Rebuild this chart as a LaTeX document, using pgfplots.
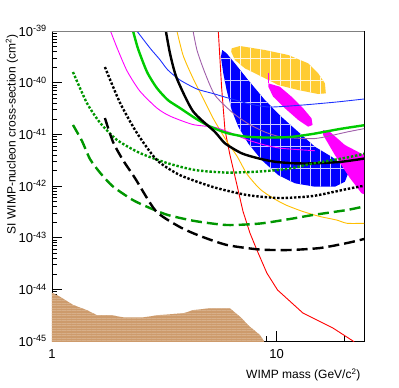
\documentclass[border=0pt]{standalone}
\usepackage{fontspec}
\setmainfont{Liberation Sans}
\usepackage{pgfplots}
\pgfplotsset{compat=1.18}
\usetikzlibrary{patterns.meta}

\definecolor{cgold}{RGB}{255,204,51}
\definecolor{cgoldline}{RGB}{255,190,0}
\definecolor{cblue}{RGB}{0,0,255}
\definecolor{cblueline}{RGB}{30,50,255}
\definecolor{cmag}{RGB}{255,0,255}
\definecolor{cbrown}{RGB}{205,155,108}
\definecolor{cgreen}{RGB}{0,204,0}
\definecolor{cdkgreen}{RGB}{0,150,0}
\definecolor{cpurple}{RGB}{160,95,170}
\definecolor{cred}{RGB}{255,0,0}

\begin{document}
\begin{tikzpicture}
\useasboundingbox (-52pt,-47pt) rectangle (347pt,341pt);
\begin{axis}[
    scale only axis,
    width=312pt, height=310pt,
    xmode=log, ymode=log,
    xmin=1, xmax=24.5, ymin=1e-45, ymax=1e-39,
    xtick={1,10}, xticklabels={1,10},
    minor xtick={2,3,4,5,6,7,8,9,20},
    ytick={1e-45,1e-44,1e-43,1e-42,1e-41,1e-40,1e-39},
    yticklabels={10\textsuperscript{-45},10\textsuperscript{-44},10\textsuperscript{-43},10\textsuperscript{-42},10\textsuperscript{-41},10\textsuperscript{-40},10\textsuperscript{-39}},
    minor ytick={2e-45,3e-45,4e-45,5e-45,6e-45,7e-45,8e-45,9e-45,
                 2e-44,3e-44,4e-44,5e-44,6e-44,7e-44,8e-44,9e-44,
                 2e-43,3e-43,4e-43,5e-43,6e-43,7e-43,8e-43,9e-43,
                 2e-42,3e-42,4e-42,5e-42,6e-42,7e-42,8e-42,9e-42,
                 2e-41,3e-41,4e-41,5e-41,6e-41,7e-41,8e-41,9e-41,
                 2e-40,3e-40,4e-40,5e-40,6e-40,7e-40,8e-40,9e-40},
    tick pos=left, tick align=inside,
    major tick length=10pt, minor tick length=5pt,
    tick style={black, line width=0.6pt},
    axis line style={black, line width=0.8pt},
    ticklabel style={font=\fontsize{13}{13}\selectfont},
    xticklabel style={anchor=north, inner sep=0pt, yshift=-8pt},
    yticklabel style={anchor=east, inner sep=0pt, xshift=-5pt},
    every axis x label/.style={at={([yshift=-24pt]rel axis cs:1,0)}, anchor=north east, font=\fontsize{12}{12}\selectfont},
    every axis y label/.style={at={([xshift=-40pt]rel axis cs:0,1)}, rotate=90, anchor=east, font=\fontsize{12}{12}\selectfont},
    xlabel={WIMP mass (GeV/c\textsuperscript{2})},
    ylabel={SI WIMP-nucleon cross-section (cm\textsuperscript{2})},
]

% --- filled regions ---
\addplot[draw=none, fill=cbrown,
  postaction={pattern={Lines[angle=0,distance=2.5pt,line width=0.35pt]}, pattern color=cbrown!80!white}]
  coordinates {(0.95,8.61e-45) (1.0,8.61e-45) (1.085,7.21e-45) (1.244,4.98e-45) (1.427,3.98e-45)
  (1.58,3.19e-45) (1.81,3.19e-45) (2.08,2.88e-45) (2.55,2.88e-45) (3.02,3.19e-45)
  (3.84,3.44e-45) (4.26,3.98e-45) (5.05,4.30e-45) (6.2,4.30e-45) (6.87,2.96e-45)
  (7.61,1.89e-45) (8.43,1.31e-45) (8.78,1e-45) (8.9,8e-46) (0.95,8e-46)} -- cycle;

\addplot[draw=none, fill=cgold,
  postaction={pattern={Lines[angle=90,distance=10pt,line width=0.7pt]}, pattern color=white!85!cgold},
  postaction={pattern={Lines[angle=0,distance=22pt,line width=0.7pt]}, pattern color=white!85!cgold}]
  coordinates {(6.31,4.62e-40) (6.87,5.13e-40) (8.87,4.29e-40) (11.26,3.44e-40) (13.82,2.37e-40)
  (15.31,1.52e-40) (16.41,9.73e-41) (16.57,6.22e-41) (15.31,6.04e-41) (12.48,7.21e-41)
  (10.17,9.02e-41) (8.58,1.31e-40) (7.22,1.90e-40) (6.52,2.75e-40) (6.28,3.97e-40)} -- cycle;

\addplot[draw=none, fill=cblue,
  postaction={pattern={Lines[angle=90,distance=10pt,line width=0.7pt]}, pattern color=white!80!cblue},
  postaction={pattern={Lines[angle=0,distance=22pt,line width=0.7pt]}, pattern color=white!80!cblue}]
  coordinates {(5.73,4.29e-40) (5.65,3.18e-40) (5.79,1.52e-40) (5.99,7.21e-41) (6.31,2.96e-41)
  (6.75,1.41e-41) (7.47,6.71e-42) (8.58,3.18e-42) (10.17,1.63e-42) (12.06,1.13e-42)
  (14.81,9.70e-43) (18.18,9.70e-43) (20.14,1.21e-42) (20.83,1.76e-42) (20.14,2.37e-42)
  (17.57,3.69e-42) (14.81,5.77e-42) (12.48,1.12e-41) (10.5,2.19e-41) (8.87,4.62e-41)
  (7.47,1.13e-40) (6.52,2.37e-40) (5.99,3.70e-40)} -- cycle;

\addplot[draw=none, fill=cmag]
  coordinates {(9.18,9.73e-41) (10.34,8.36e-41) (11.66,5.35e-41) (13.14,3.19e-41) (14.31,2.04e-41)
  (14.46,1.52e-41) (13.82,1.41e-41) (12.48,1.90e-41) (10.9,3.19e-41) (9.66,5.35e-41)
  (9.18,8.36e-41)} -- cycle;
\addplot[cmag, line width=0.8pt] coordinates {(9.18,1.52e-40) (9.18,9.73e-41)};

\addplot[draw=none, fill=cmag]
  coordinates {(16.12,1.21e-41) (17.27,1.12e-41) (20.14,6.22e-42) (26,3.48e-42) (26,6.4e-43)
  (23.89,7.23e-43) (21.2,1.43e-42) (18.18,3.98e-42) (16.12,9.71e-42)} -- cycle;

% --- thin limit curves ---
\addplot[cred, line width=0.9pt] coordinates {(5.45,2e-39) (5.69,8.24e-41) (5.89,1.21e-41) (6.2,3.98e-42)
  (6.66,1.05e-42) (7.08,3.28e-43) (7.61,1.23e-43) (8.17,5.78e-44) (9.05,2.07e-44)
  (10.1,9.71e-45) (13.1,3.48e-45) (17.8,1.79e-45) (21.9,1e-45) (23,8e-46)};

\addplot[cpurple, line width=0.9pt, smooth, tension=0.4] coordinates {(4.2,1.3e-39) (4.42,4.29e-40) (4.80,1.54e-40)
  (5.31,5.77e-41) (6.32,2.70e-41) (7.45,1.62e-41) (8.87,1.11e-41) (10.56,8.88e-42)
  (14.81,8.30e-42) (20.76,1.12e-41) (25,1.31e-41)};

\addplot[cgoldline, line width=0.9pt, smooth, tension=0.4] coordinates {(3.55,1.3e-39) (3.83,3.44e-40) (4.24,1.23e-40)
  (4.70,5.05e-41) (5.21,2.07e-41) (5.77,9.71e-42) (6.07,6.79e-42) (6.66,3.81e-42)
  (7.38,1.71e-42) (8.43,8.75e-43) (9.63,5.86e-43) (11.0,4.29e-43) (13.1,3.21e-43)
  (15.6,2.57e-43) (18.5,2.20e-43) (20.6,1.90e-43) (25,1.90e-43)};

\addplot[cblueline, line width=0.9pt, smooth, tension=0.4] coordinates {(2.28,1.3e-39) (2.73,4.69e-40) (3.02,2.81e-40)
  (3.28,1.76e-40) (3.71,1.13e-40) (4.42,7.54e-41) (5.21,6.17e-41) (6.2,4.94e-41)
  (7.61,3.87e-41) (9.34,3.38e-41) (13.1,3.70e-41) (18.5,4.23e-41) (25,4.88e-41)};

\addplot[cmag, line width=0.9pt, smooth, tension=0.4] coordinates {(1.78,1.3e-39) (1.95,4.69e-40) (2.16,1.68e-40)
  (2.46,6.90e-41) (2.93,3.24e-41) (3.35,2.26e-41) (4.24,1.55e-41) (5.31,1.37e-41)
  (6.31,1.05e-41) (7.47,7.76e-42) (8.87,6.22e-42) (10.5,5.37e-42) (14.81,4.82e-42)};

% --- thick curves ---
\addplot[cgreen, line width=2.4pt, smooth, tension=0.4] coordinates {(2.26,1.3e-39) (2.41,4.69e-40) (2.65,1.61e-40)
  (2.93,7.89e-41) (3.28,4.62e-41) (3.71,3.24e-41) (4.33,2.07e-41) (5.05,1.42e-41)
  (6.01,1.06e-41) (7.22,9.08e-42) (8.87,8.69e-42) (11.46,8.88e-42) (14.5,1.02e-41)
  (19.1,1.27e-41) (25,1.52e-41)};

\addplot[black, line width=2.4pt, smooth, tension=0.4] coordinates {(3.18,1.3e-39) (3.35,3.75e-40) (3.59,1.23e-40)
  (4.24,2.82e-41) (5.31,1.12e-41) (5.89,6.71e-42) (6.99,4.30e-42) (8.28,3.44e-42)
  (9.83,2.95e-42) (12.06,2.75e-42) (14.81,2.75e-42) (19.47,2.95e-42) (25,3.44e-42)};

\addplot[cdkgreen, line width=2.4pt, dash pattern=on 2.4pt off 1.8pt, smooth, tension=0.4] coordinates {(1.24,1.61e-40) (1.43,4.05e-41)
  (1.64,1.66e-41) (1.95,7.76e-42) (2.46,4.36e-42) (3.25,2.79e-42) (4.33,2.04e-42)
  (6.01,1.82e-42) (8.43,1.91e-42) (11.46,2.18e-42) (14.5,2.73e-42) (20.6,3.56e-42) (25,4.30e-42)};

\addplot[black, line width=2.4pt, dash pattern=on 2.4pt off 1.8pt, smooth, tension=0.4] coordinates {(1.72,2.01e-40) (2.01,4.05e-41)
  (2.39,1.06e-41) (2.93,3.18e-42) (3.71,1.63e-42) (5.21,9.57e-43) (7.38,6.70e-43)
  (10.3,5.86e-43) (14.5,6.41e-43) (20.6,8.75e-43) (25,1.03e-42)};

\addplot[cdkgreen, line width=2.4pt, dash pattern=on 11pt off 5pt, smooth, tension=0.4] coordinates {(1.24,1.52e-41) (1.36,7.43e-42)
  (1.476,3.33e-42) (1.64,1.79e-42) (1.87,9.77e-43) (2.29,5.36e-43) (2.73,3.75e-43)
  (3.28,2.75e-43) (4.33,2.10e-43) (6.01,1.76e-43) (8.43,1.88e-43) (11.46,2.30e-43)
  (14.5,2.75e-43) (20.6,3.44e-43) (25,4.10e-43)};

\addplot[black, line width=2.4pt, dash pattern=on 11pt off 5pt, smooth, tension=0.4] coordinates {(1.72,2.07e-41) (1.87,7.11e-42)
  (2.07,3.18e-42) (2.34,1.43e-42) (2.90,3.28e-43) (3.71,1.61e-43) (4.56,1.08e-43)
  (6.01,7.22e-44) (8.43,5.90e-44) (11.46,5.78e-44) (15.6,6.31e-44) (20.6,7.88e-44) (25,9.64e-44)};

\draw[gray, line width=1.6pt] (rel axis cs:0,1) -- (rel axis cs:1,1);
\end{axis}
\end{tikzpicture}
\end{document}
